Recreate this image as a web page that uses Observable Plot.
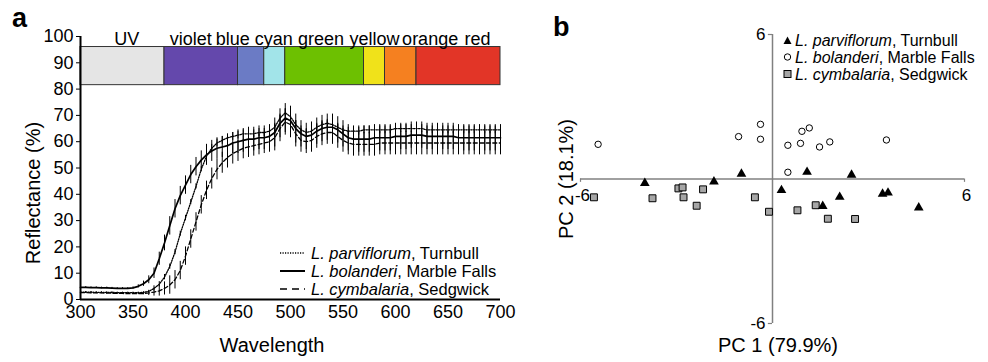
<!DOCTYPE html>
<html><head><meta charset="utf-8">
<script src="https://cdn.jsdelivr.net/npm/d3@7"></script>
<script src="https://cdn.jsdelivr.net/npm/@observablehq/plot@0.6"></script>
<style>
body{margin:0;background:#fff;font-family:"Liberation Sans",Arial,sans-serif;}
#wrap{position:relative;width:988px;height:362px;overflow:hidden;background:#fff;}
#pa{position:absolute;left:0;top:0;}
#pb{position:absolute;left:540px;top:0;}
#ov{position:absolute;left:0;top:0;pointer-events:none;}
</style></head><body>
<div id="wrap"><div id="pa"></div><div id="pb"></div>
<svg id="ov" width="988" height="362" font-family="Liberation Sans, Arial, sans-serif">
  <text x="12" y="27" font-size="27" font-weight="bold">a</text>
  <text x="553" y="36" font-size="27" font-weight="bold">b</text>
  <text x="272" y="352" font-size="20" text-anchor="middle">Wavelength</text>
  <text transform="translate(40,193) rotate(-90)" font-size="20" text-anchor="middle">Reflectance (%)</text>
  <text x="778" y="352" font-size="20" text-anchor="middle">PC 1 (79.9%)</text>
  <text transform="translate(573,179) rotate(-90)" font-size="20" text-anchor="middle">PC 2 (18.1%)</text>
  <!-- legend a -->
  <line x1="280" x2="305" y1="253" y2="253" stroke="#000" stroke-width="1.3" stroke-dasharray="1.2,1.3"/>
  <line x1="280" x2="305" y1="271" y2="271" stroke="#000" stroke-width="2"/>
  <line x1="280" x2="305" y1="289" y2="289" stroke="#000" stroke-width="1.5" stroke-dasharray="7,5"/>
  <text x="311" y="259" font-size="16.5"><tspan font-style="italic">L. parviflorum</tspan>, Turnbull</text>
  <text x="311" y="277" font-size="16.5"><tspan font-style="italic">L. bolanderi</tspan>, Marble Falls</text>
  <text x="311" y="295" font-size="16.5"><tspan font-style="italic">L. cymbalaria</tspan>, Sedgwick</text>
  <!-- legend b -->
  <path d="M783.5,44 L787.5,36.5 L791.5,44 Z" fill="#000"/>
  <circle cx="787.5" cy="57" r="3.2" fill="#fff" stroke="#000" stroke-width="1"/>
  <rect x="784" y="70.5" width="7" height="7" fill="#a6a6a6" stroke="#000" stroke-width="1"/>
  <text x="795" y="46" font-size="16"><tspan font-style="italic">L. parviflorum</tspan>, Turnbull</text>
  <text x="795" y="63" font-size="16"><tspan font-style="italic">L. bolanderi</tspan>, Marble Falls</text>
  <text x="795" y="80" font-size="16"><tspan font-style="italic">L. cymbalaria</tspan>, Sedgwick</text>
</svg>
</div>
<script>
// ---------- Panel a data ----------
const wavelength = [300,305,310,315,320,325,330,335,340,345,350,355,360,365,370,375,380,385,390,395,400,405,410,415,420,425,430,435,440,445,450,455,460,465,470,475,480,485,490,495,500,505,510,515,520,525,530,535,540,545,550,555,560,565,570,575,580,585,590,595,600,605,610,615,620,625,630,635,640,645,650,655,660,665,670,675,680,685,690,695,700];
const parvMean = [2.8,2.8,2.8,2.7,2.7,2.7,2.7,2.6,2.6,2.6,2.6,2.6,2.7,3.1,4.2,5.8,8.5,12.5,18.0,25.0,31.0,37.0,43.0,49.5,54.5,57.5,59.5,60.5,61.5,62.0,62.5,63.0,63.0,63.0,63.5,63.5,64.0,65.5,69.0,71.0,69.5,66.5,64.5,63.5,64.0,65.5,66.5,67.0,66.5,65.5,64.5,64.0,64.0,64.0,64.5,64.5,64.5,64.5,64.5,64.5,65.0,65.0,65.0,65.0,65.0,65.0,64.5,64.5,64.5,64.5,64.5,64.5,64.5,64.5,64.5,64.5,64.5,64.5,64.5,64.5,64.5];
const parvErr = [0.2,0.2,0.2,0.2,0.2,0.2,0.2,0.2,0.2,0.2,0.2,0.2,0.2,0.2,1.0,1.0,1.0,1.0,1.0,1.0,1.0,1.0,1.0,1.0,1.0,1.5,1.5,1.5,1.5,1.5,1.5,1.5,1.5,1.5,1.5,1.5,1.5,1.5,1.5,1.5,1.5,1.5,1.5,1.5,1.5,1.5,1.5,1.5,1.5,1.5,1.5,1.5,1.5,1.5,1.5,1.5,1.5,1.5,1.5,1.5,1.5,1.5,1.5,1.5,1.5,1.5,1.5,1.5,1.5,1.5,1.5,1.5,1.5,1.5,1.5,1.5,1.5,1.5,1.5,1.5,1.5];
const bolMean = [4.6,4.6,4.5,4.5,4.4,4.4,4.3,4.2,4.2,4.2,4.4,5.0,6.0,7.5,10.0,15.5,21.5,28.0,34.5,39.5,43.5,47.5,50.5,53.0,55.0,56.5,57.5,58.0,58.5,59.5,60.0,60.5,61.0,61.0,61.5,61.5,62.0,63.5,67.0,69.0,68.0,65.0,63.0,62.0,62.5,64.0,65.0,65.5,65.5,64.5,63.0,61.5,61.0,61.0,61.0,61.0,61.5,61.5,61.5,61.5,62.0,62.0,62.0,62.5,62.5,62.5,62.0,62.0,62.0,62.0,62.0,62.0,61.5,61.5,61.5,61.5,61.5,61.5,61.5,61.5,61.5];
const bolErr = [0.3,0.3,0.3,0.3,0.3,0.3,0.3,0.3,0.3,0.3,0.4,0.6,1.0,1.5,2.0,2.5,3.0,3.5,3.5,3.5,3.5,3.5,3.5,3.5,4.0,4.0,4.0,4.0,4.0,4.0,4.5,4.5,4.5,4.5,4.5,4.5,4.5,5.5,5.5,5.5,5.5,5.5,5.0,5.0,5.0,5.0,5.0,5.0,5.0,5.0,5.0,5.0,5.0,5.0,5.0,5.0,5.0,5.0,5.0,5.0,5.0,5.0,5.0,5.0,5.0,5.0,5.0,5.0,5.0,5.0,5.0,5.0,5.0,5.0,5.0,5.0,5.0,5.0,5.0,5.0,5.0];
const cymMean = [2.6,2.6,2.5,2.5,2.5,2.4,2.4,2.3,2.3,2.2,2.2,2.2,2.3,2.5,2.8,3.3,4.2,5.5,7.5,11.0,16.5,23.0,29.5,36.0,41.5,46.0,49.5,52.0,54.0,55.5,56.5,57.5,58.0,58.5,59.0,59.5,60.0,61.5,65.0,67.5,66.5,63.0,60.5,60.0,60.5,62.0,63.0,63.5,63.5,62.0,60.5,59.5,59.0,59.0,59.0,59.0,59.0,59.5,59.5,59.5,59.5,59.5,59.5,59.5,59.5,59.5,59.5,59.5,59.5,59.5,59.5,59.5,59.5,59.5,59.5,59.5,59.5,59.5,59.5,59.5,59.5];
const cymErr = [0.3,0.3,0.3,0.3,0.3,0.3,0.3,0.3,0.3,0.3,0.3,0.3,0.5,1.0,1.5,2.0,2.5,3.5,3.5,3.5,3.5,3.5,3.5,3.5,3.5,4.0,4.0,4.0,4.0,4.0,4.0,4.0,4.0,4.0,4.0,4.0,4.0,5.0,5.0,5.0,5.0,5.0,4.5,4.5,4.5,4.5,4.5,4.5,4.5,4.5,4.5,4.5,4.5,4.5,4.5,4.5,4.5,4.5,4.5,4.5,4.5,4.5,4.5,4.5,4.5,4.5,4.5,4.5,4.5,4.5,4.5,4.5,4.5,4.5,4.5,4.5,4.5,4.5,4.5,4.5,4.5];

const bandNames  = ["UV","violet","blue","cyan","green","yellow","orange","red"];
const bandStart  = [300,380,450,475,495,570,590,620];
const bandEnd    = [380,450,475,495,570,590,620,700];
const bandColors = ["#e5e5e5","#6448ac","#6b7bc5","#a2e4e9","#6dc001","#f0e21a","#f58020","#e23527"];
const bandLabelX = [344,405,445,484,529,580,633,678];
const bandBottom = 81.5, bandTop = 96;

const xTicksA = [300,350,400,450,500,550,600,650,700];
const yTicksA = [0,10,20,30,40,50,60,70,80,90,100];

// ---------- Panel b data ----------
const triX  = [-3.99,-1.83,-0.97,0.28,1.08,1.57,2.10,2.47,3.44,3.61,4.57];
const triY  = [-0.17,-0.11,0.21,-0.47,0.29,-1.13,-0.75,0.17,-0.62,-0.57,-1.19];
const circX = [-5.45,-1.06,-0.375,-0.375,0.48,0.48,0.875,0.92,1.15,1.47,1.79,3.56];
const circY = [1.44,1.76,2.27,1.65,1.40,0.28,1.48,1.98,2.12,1.33,1.54,1.62];
const sqX   = [-5.58,-3.75,-2.94,-2.81,-2.78,-2.37,-2.17,-0.55,-0.11,0.78,1.35,1.73,2.58];
const sqY   = [-0.76,-0.80,-0.39,-0.35,-0.76,-1.11,-0.43,-0.76,-1.36,-1.30,-1.09,-1.65,-1.66];
const pcTicks = [-6, 6];

// ---------- Panel a ----------
const series = [
  {mean: parvMean, err: parvErr, dash: "1.2,1.3", width: 1.3},
  {mean: bolMean,  err: bolErr,  dash: null,      width: 1.7},
  {mean: cymMean,  err: cymErr,  dash: "4,2.5",   width: 1.3}
];
const bands = bandNames.map((n, i) => ({n, x1: bandStart[i], x2: bandEnd[i], c: bandColors[i], lx: bandLabelX[i]}));

const marksA = [
  Plot.rect(bands, {x1: "x1", x2: "x2", y1: bandBottom, y2: bandTop, fill: "c", stroke: "#333", strokeWidth: 1}),
  Plot.text(bands, {x: "lx", y: bandTop, text: "n", lineAnchor: "bottom", dy: -2, fontSize: 18})
];
series.forEach(s => {
  const rows = wavelength.map((w, i) => ({w, m: s.mean[i], e: s.err[i]}));
  marksA.push(Plot.ruleX(rows, {x: "w", y1: d => d.m - d.e, y2: d => d.m + d.e, stroke: "#000", strokeWidth: 1}));
  marksA.push(Plot.line(rows, {x: "w", y: "m", stroke: "#000", strokeWidth: s.width, strokeDasharray: s.dash}));
});
marksA.push(Plot.ruleX([300], {y1: 0, y2: 100, stroke: "#000", strokeWidth: 2}));
marksA.push(Plot.ruleY([0], {x1: 300, x2: 700, stroke: "#000", strokeWidth: 2}));

const plotA = Plot.plot({
  width: 540, height: 362,
  marginLeft: 80, marginRight: 40, marginTop: 36, marginBottom: 63,
  style: {fontFamily: "Liberation Sans, Arial, sans-serif", fontSize: "18px", background: "transparent", color: "#000"},
  x: {domain: [300, 700], ticks: xTicksA, tickSize: 0, tickPadding: 6, label: null},
  y: {domain: [0, 100], ticks: yTicksA, tickSize: 4, tickPadding: 3, label: null},
  marks: marksA
});
document.getElementById("pa").appendChild(plotA);

// ---------- Panel b ----------
const tri  = triX.map((x, i) => ({x, y: triY[i]}));
const circ = circX.map((x, i) => ({x, y: circY[i]}));
const sq   = sqX.map((x, i) => ({x, y: sqY[i]}));

const plotB = Plot.plot({
  width: 448, height: 362,
  marginLeft: 40, marginRight: 24, marginTop: 34, marginBottom: 39,
  style: {fontFamily: "Liberation Sans, Arial, sans-serif", fontSize: "17px", background: "transparent", color: "#000"},
  x: {domain: [-6, 6], axis: null},
  y: {domain: [-6, 6], axis: null},
  marks: [
    Plot.ruleY([0], {x1: -6, x2: 6, stroke: "#808080", strokeWidth: 1.5}),
    Plot.ruleX([0], {y1: -6, y2: 6, stroke: "#808080", strokeWidth: 1.5}),
    Plot.ruleY(pcTicks, {y: d => d, x1: -0.13, x2: 0, stroke: "#808080", strokeWidth: 1.2}),
    Plot.ruleX(pcTicks, {x: d => d, y1: -0.14, y2: 0, stroke: "#808080", strokeWidth: 1.2}),
    Plot.text(pcTicks, {x: 0, y: d => d, text: d => String(d), textAnchor: "end", dx: -7, fontSize: 17}),
    Plot.text(pcTicks, {x: d => d, y: 0, text: d => String(d), dx: 2, dy: 17, fontSize: 17}),
    Plot.dot(sq, {x: "x", y: "y", symbol: "square", r: 3.9, fill: "#a6a6a6", stroke: "#000", strokeWidth: 1}),
    Plot.dot(circ, {x: "x", y: "y", symbol: "circle", r: 3.2, fill: "#fff", stroke: "#000", strokeWidth: 1}),
    Plot.dot(tri, {x: "x", y: "y", symbol: "triangle", r: 3.6, fill: "#000", stroke: "none"})
  ]
});
document.getElementById("pb").appendChild(plotB);
</script>
</body></html>
